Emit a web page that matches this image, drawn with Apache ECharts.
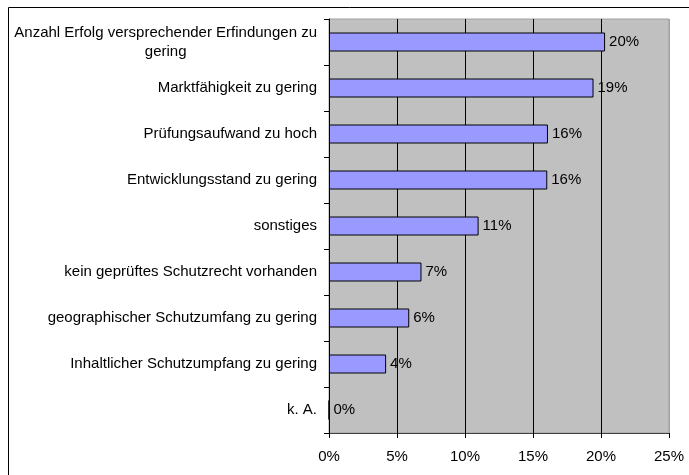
<!DOCTYPE html>
<html>
<head>
<meta charset="utf-8">
<script src="https://cdn.jsdelivr.net/npm/echarts@6/dist/echarts.min.js"></script>
<style>
  html, body { margin: 0; padding: 0; background: #fff; }
  #chart { width: 689px; height: 475px; }
</style>
</head>
<body>
<div id="chart"></div>
<script>
// Gründe – Anteile je Kategorie
const categories = [
    'Anzahl Erfolg versprechender Erfindungen zu\ngering',
    'Marktfähigkeit zu gering',
    'Prüfungsaufwand zu hoch',
    'Entwicklungsstand zu gering',
    'sonstiges',
    'kein geprüftes Schutzrecht vorhanden',
    'geographischer Schutzumfang zu gering',
    'Inhaltlicher Schutzumpfang zu gering',
    'k. A.'
];
const values = [20.3, 19.45, 16.1, 16.05, 11.0, 6.8, 5.9, 4.2, 0];
const xTicks = [0, 5, 10, 15, 20, 25];

const chart = echarts.init(document.getElementById('chart'));

const font = 'Liberation Sans, Arial, sans-serif';

const option = {
    animation: false,
    graphic: [{
        type: 'rect',
        shape: { x: 8.5, y: 7.5, width: 720, height: 520 },
        style: { fill: 'none', stroke: '#000', lineWidth: 1 },
        silent: true,
        z: -10
    }],
    grid: {
        left: 329,
        top: 19,
        width: 340,
        height: 414,
        show: true,
        backgroundColor: '#c0c0c0',
        borderColor: '#a0a0a0',
        borderWidth: 1
    },
    xAxis: {
        type: 'value',
        min: xTicks[0],
        max: xTicks[xTicks.length - 1],
        interval: 5,
        axisLine: { show: true, lineStyle: { color: '#404040', width: 1 } },
        axisTick: { show: true, length: 5, lineStyle: { color: '#000' } },
        splitLine: {
            show: true,
            lineStyle: { color: ['#000', '#000', '#000', '#000', '#000', '#a0a0a0'], width: 1 }
        },
        axisLabel: {
            color: '#000',
            fontFamily: font,
            fontSize: 15,
            margin: 16,
            formatter: v => v + '%'
        }
    },
    yAxis: {
        type: 'category',
        inverse: true,
        data: categories,
        axisLine: { show: true, lineStyle: { color: '#000', width: 1 } },
        axisTick: { show: true, length: 5, lineStyle: { color: '#000' } },
        splitLine: { show: false },
        axisLabel: {
            color: '#000',
            fontFamily: font,
            fontSize: 15,
            margin: 12,
            lineHeight: 19,
            formatter: function (v) {
                const parts = v.split('\n');
                if (parts.length === 1) return v;
                return '{a|' + parts[0] + '}\n{b|' + parts[1] + '}';
            },
            rich: {
                a: { fontFamily: font, fontSize: 15, color: '#000', lineHeight: 19 },
                b: { fontFamily: font, fontSize: 15, color: '#000', lineHeight: 19, align: 'center' }
            }
        }
    },
    series: [{
        type: 'bar',
        data: values,
        barWidth: 19,
        itemStyle: { color: '#9999ff', borderColor: '#000', borderWidth: 1 },
        label: {
            show: true,
            position: 'right',
            distance: 4,
            color: '#000',
            fontFamily: font,
            fontSize: 15,
            formatter: p => Math.round(p.value) + '%'
        }
    }]
};

chart.setOption(option);
</script>
</body>
</html>
